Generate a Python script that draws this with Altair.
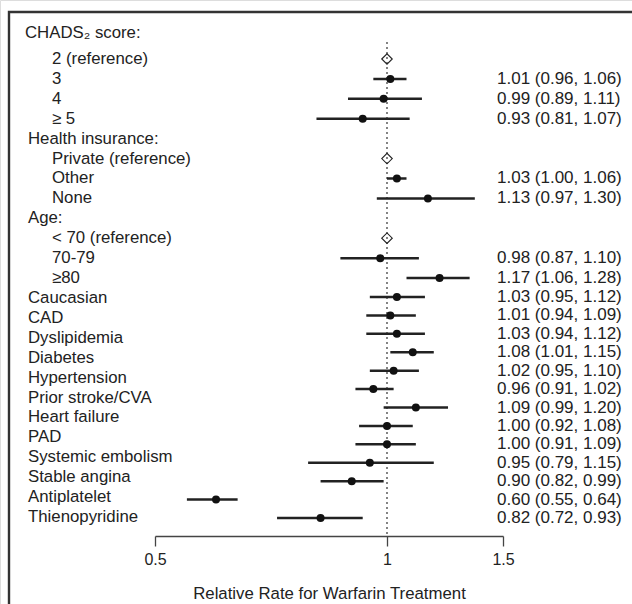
import math
import altair as alt
import pandas as pd

# ---------------- data ----------------
labels = ["CHADS\u2082 score:", "2 (reference)", "3", "4", "\u2265 5",
          "Health insurance:", "Private (reference)", "Other", "None",
          "Age:", "< 70 (reference)", "70-79", "\u226580",
          "Caucasian", "CAD", "Dyslipidemia", "Diabetes", "Hypertension",
          "Prior stroke/CVA", "Heart failure", "PAD", "Systemic embolism",
          "Stable angina", "Antiplatelet", "Thienopyridine"]
label_level = [0, 1, 1, 1, 1, 0, 1, 1, 1, 0, 1, 1, 1,
               0, 0, 0, 0, 0, 0, 0, 0, 0, 0, 0, 0]

reference_rows = ["2 (reference)", "Private (reference)", "< 70 (reference)"]
reference_value = [1.0]

group_rows = ["3", "4", "\u2265 5", "Other", "None", "70-79", "\u226580"]
group_est = [1.01, 0.99, 0.93, 1.03, 1.13, 0.98, 1.17]
group_lo = [0.96, 0.89, 0.81, 1.00, 0.97, 0.87, 1.06]
group_hi = [1.06, 1.11, 1.07, 1.06, 1.30, 1.10, 1.28]

factor_est = [1.03, 1.01, 1.03, 1.08, 1.02, 0.96, 1.09, 1.00, 1.00, 0.95, 0.90, 0.60, 0.82]
factor_lo = [0.95, 0.94, 0.94, 1.01, 0.95, 0.91, 0.99, 0.92, 0.91, 0.79, 0.82, 0.55, 0.72]
factor_hi = [1.12, 1.09, 1.12, 1.15, 1.10, 1.02, 1.20, 1.08, 1.09, 1.15, 0.99, 0.64, 0.93]

tick_values = [0.5, 1.0, math.sqrt(2)]
tick_labels = ["0.5", "1", "1.5"]

# ---------------- tables ----------------
def ci_text(e, l, h):
    return f"{e:.2f} ({l:.2f}, {h:.2f})"

lab_df = pd.DataFrame({"label": labels, "idx": range(len(labels)), "level": label_level})
ref_df = pd.DataFrame({"label": reference_rows,
                       "idx": [labels.index(r) for r in reference_rows],
                       "est": reference_value * len(reference_rows)})
grp_df = pd.DataFrame({"label": group_rows,
                       "idx": [labels.index(r) for r in group_rows],
                       "est": group_est, "lo": group_lo, "hi": group_hi})
grp_df["ci"] = [ci_text(e, l, h) for e, l, h in zip(group_est, group_lo, group_hi)]
fac_df = pd.DataFrame({"row": range(len(factor_est)),
                       "est": factor_est, "lo": factor_lo, "hi": factor_hi})
fac_df["ci"] = [ci_text(e, l, h) for e, l, h in zip(factor_est, factor_lo, factor_hi)]
one_df = pd.DataFrame({"v": reference_value})

# ---------------- layout ----------------
W, H = 632, 604
FONT = "Liberation Sans"
INK = "#222222"

# label expression built from the tick lists
mids = [(tick_values[i] + tick_values[i + 1]) / 2 for i in range(len(tick_values) - 1)]
expr = f"'{tick_labels[-1]}'"
for m, lab in reversed(list(zip(mids, tick_labels[:-1]))):
    expr = f"datum.value < {m} ? '{lab}' : ({expr})"

x_scale = alt.Scale(type="log", domain=[tick_values[0], tick_values[-1]], range=[155, 503], nice=False)
x_axis = alt.Axis(values=tick_values, labelExpr=expr, title="Relative Rate for Warfarin Treatment",
                  offset=-68, tickSize=10, tickWidth=1.3, tickColor="#444", domainColor="#444",
                  domainWidth=1.3, labelFont=FONT, labelFontSize=16, labelColor=INK, labelPadding=5,
                  titleFont=FONT, titleFontSize=16.8, titleFontWeight="normal", titleColor=INK,
                  titlePadding=18, grid=False, labelFlush=False)
y_lab = alt.Scale(domain=[0, len(labels) - 1], range=[39.1, 517], nice=False, zero=False)
y_fac = alt.Scale(domain=[0, len(factor_est) - 1], range=[297, 518], nice=False, zero=False)

frame = alt.Chart(one_df).mark_rect(fillOpacity=0, stroke="#333", strokeWidth=2.4).encode(
    x=alt.value(9), x2=alt.value(W + 40), y=alt.value(12), y2=alt.value(H + 40))

ref_line = alt.Chart(one_df).mark_rule(strokeDash=[2, 3], color="#333", strokeWidth=1.2).encode(
    x=alt.X("v:Q", scale=x_scale, axis=x_axis), y=alt.value(42), y2=alt.value(536))

label_text = dict(align="left", baseline="middle", font=FONT, fontSize=16.8, color=INK)
ci_style = dict(align="left", baseline="middle", font=FONT, fontSize=17, color=INK)

lab_first = alt.Chart(lab_df).transform_filter("datum.idx == 0").mark_text(dx=-3, dy=-6, **label_text).encode(
    x=alt.value(28), y=alt.Y("idx:Q", scale=y_lab, axis=None), text="label:N")
lab_head = alt.Chart(lab_df).transform_filter("datum.level == 0 && datum.idx > 0").mark_text(**label_text).encode(
    x=alt.value(28), y=alt.Y("idx:Q", scale=y_lab, axis=None), text="label:N")
lab_item = alt.Chart(lab_df).transform_filter("datum.level == 1").mark_text(**label_text).encode(
    x=alt.value(52), y=alt.Y("idx:Q", scale=y_lab, axis=None), text="label:N")

diamonds = alt.Chart(ref_df).mark_point(shape="diamond", filled=False, size=110, stroke=INK,
                                        strokeWidth=1.1, opacity=1).encode(
    x=alt.X("est:Q", scale=x_scale, axis=x_axis), y=alt.Y("idx:Q", scale=y_lab, axis=None))

grp_bar = alt.Chart(grp_df).mark_rule(strokeWidth=2.5, color=INK).encode(
    x=alt.X("lo:Q", scale=x_scale, axis=x_axis), x2="hi:Q", y=alt.Y("idx:Q", scale=y_lab, axis=None))
grp_dot = alt.Chart(grp_df).mark_circle(size=64, opacity=1, color="#111").encode(
    x=alt.X("est:Q", scale=x_scale, axis=x_axis), y=alt.Y("idx:Q", scale=y_lab, axis=None))
grp_txt = alt.Chart(grp_df).mark_text(**ci_style).encode(
    x=alt.value(497), y=alt.Y("idx:Q", scale=y_lab, axis=None), text="ci:N")

fac_bar = alt.Chart(fac_df).mark_rule(strokeWidth=2.5, color=INK).encode(
    x=alt.X("lo:Q", scale=x_scale, axis=x_axis), x2="hi:Q", y=alt.Y("row:Q", scale=y_fac, axis=None))
fac_dot = alt.Chart(fac_df).mark_circle(size=64, opacity=1, color="#111").encode(
    x=alt.X("est:Q", scale=x_scale, axis=x_axis), y=alt.Y("row:Q", scale=y_fac, axis=None))
fac_txt = alt.Chart(fac_df).mark_text(**ci_style).encode(
    x=alt.value(497), y=alt.Y("row:Q", scale=y_fac, axis=None), text="ci:N")

chart = alt.layer(
    frame, ref_line, lab_first, lab_head, lab_item, diamonds,
    grp_bar, grp_dot, grp_txt, fac_bar, fac_dot, fac_txt
).resolve_scale(y="independent").properties(
    width=W, height=H, padding=0, autosize=alt.AutoSizeParams(type="none")
).configure_view(stroke=None).configure(background="white")

chart.save("out.html", embed_options={"renderer": "svg", "actions": False})
